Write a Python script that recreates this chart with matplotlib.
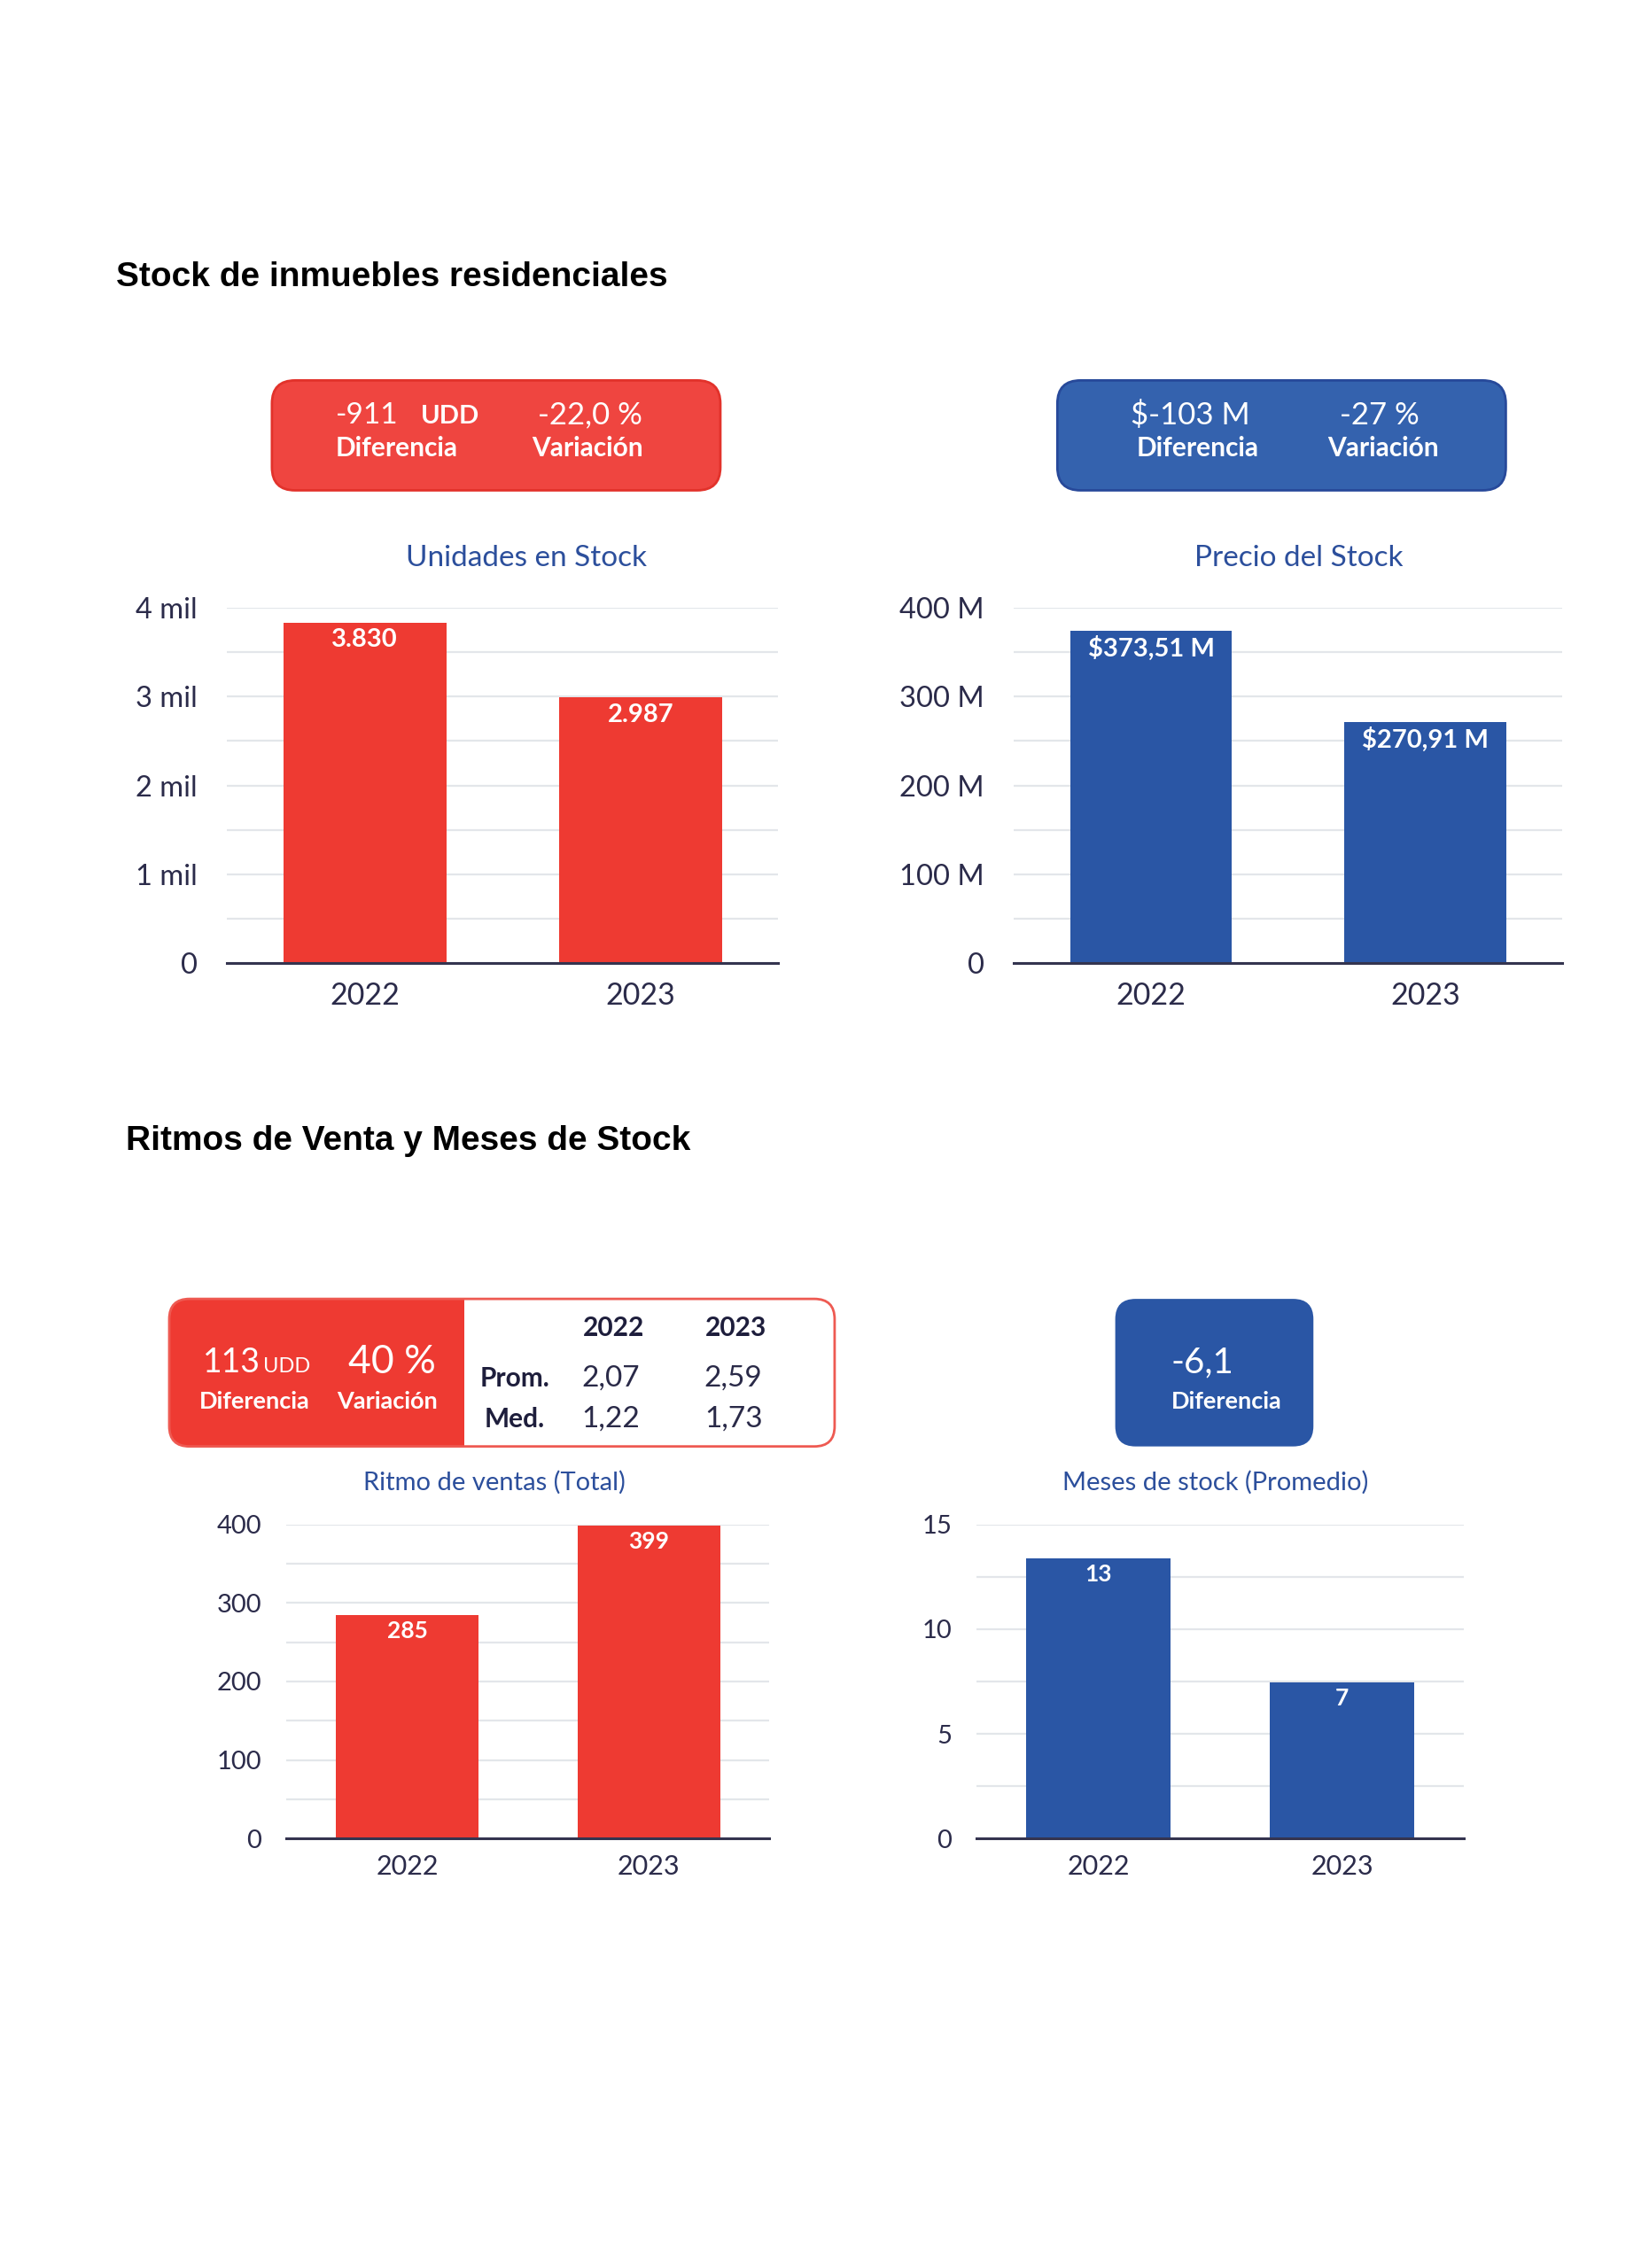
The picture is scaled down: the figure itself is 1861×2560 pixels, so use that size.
import matplotlib.pyplot as plt
from matplotlib.patches import FancyBboxPatch, Rectangle
from matplotlib.ticker import FixedLocator

# =========================
# datos
# =========================
years = ['2022', '2023']
unidades = [3830, 2987]
precio = [373.51, 270.91]
ritmo = [285, 399]
meses = [13.4, 7.45]

unidades_ticks = [0, 1000, 2000, 3000, 4000]
unidades_ticklabels = ['0', '1 mil', '2 mil', '3 mil', '4 mil']
precio_ticks = [0, 100, 200, 300, 400]
precio_ticklabels = ['0', '100 M', '200 M', '300 M', '400 M']
ritmo_ticks = [0, 100, 200, 300, 400]
meses_ticks = [0, 5, 10, 15]

RED = '#EE3A32'
BLUE = '#2A56A5'
TITLE_BLUE = '#2C4F9C'
NAVY = '#2B2B4A'
GRID = '#E3E6EA'

FONT = ['Lato', 'DejaVu Sans']
plt.rcParams['font.family'] = FONT

W, H = 1140, 1568  # coordenadas de maqueta

fig = plt.figure(figsize=(18.61, 25.60), dpi=100)
fig.patch.set_facecolor('white')

bg = fig.add_axes([0, 0, 1, 1], zorder=0)
bg.set_xlim(0, W)
bg.set_ylim(H, 0)
bg.axis('off')


def box_axes(x0, x1, y0, y1):
    return fig.add_axes([x0 / W, 1 - y1 / H, (x1 - x0) / W, (y1 - y0) / H], zorder=2)


def bar_chart(ax, values, color, ticks, ticklabels, minor, labels, tsize, xsize, lsize, ypad, xpad, loff):
    x = range(len(years))
    ax.bar(x, values, width=0.59, color=color, zorder=3)
    ax.set_xlim(-0.5, 1.5)
    ax.set_ylim(ticks[0], ticks[-1])
    ax.set_xticks(list(x))
    ax.set_xticklabels(years)
    ax.yaxis.set_major_locator(FixedLocator(ticks))
    ax.set_yticklabels(ticklabels)
    ax.yaxis.set_minor_locator(FixedLocator(minor))
    ax.grid(axis='y', which='both', color=GRID, linewidth=1.6, zorder=0)
    ax.set_axisbelow(True)
    for s in ['top', 'right', 'left']:
        ax.spines[s].set_visible(False)
    ax.spines['bottom'].set_color('#34344F')
    ax.spines['bottom'].set_linewidth(2.2)
    ax.spines['bottom'].set_zorder(4)
    ax.tick_params(axis='y', which='both', length=0, labelsize=tsize, labelcolor=NAVY, pad=ypad)
    ax.tick_params(axis='x', length=0, labelsize=xsize, labelcolor=NAVY, pad=xpad)
    ax.set_facecolor('none')
    for i, v in enumerate(values):
        ax.annotate(labels[i], (i, v), xytext=(0, loff), textcoords='offset points',
                    ha='center', va='center', color='white', fontsize=lsize,
                    fontweight='bold', zorder=5)


# =========================
# titulos de seccion
# =========================
bg.text(80, 192, 'Stock de inmuebles residenciales', fontsize=28, fontweight='bold',
        family=['Liberation Sans', 'DejaVu Sans'], ha='left', va='center', color='black')
bg.text(87, 789, 'Ritmos de Venta y Meses de Stock', fontsize=28, fontweight='bold',
        family=['Liberation Sans', 'DejaVu Sans'], ha='left', va='center', color='black')

# =========================
# cajas resumen
# =========================
bg.add_patch(FancyBboxPatch((188, 263), 310, 76, boxstyle='round,pad=0,rounding_size=16',
                            facecolor='#EF4540', edgecolor='#E2322B', linewidth=2))
bg.text(254, 287, '-911', fontsize=24, color='white', ha='center', va='center')
bg.text(311, 288, 'UDD', fontsize=21, color='white', ha='center', va='center', fontweight='bold')
bg.text(408, 287, '-22,0 %', fontsize=25, color='white', ha='center', va='center')
bg.text(274, 310, 'Diferencia', fontsize=21.5, color='white', ha='center', va='center', fontweight='bold')
bg.text(406, 310, 'Variación', fontsize=21.5, color='white', ha='center', va='center', fontweight='bold')

bg.add_patch(FancyBboxPatch((731, 263), 310, 76, boxstyle='round,pad=0,rounding_size=16',
                            facecolor='#3462AE', edgecolor='#27499A', linewidth=2))
bg.text(823, 287, '$-103 M', fontsize=25, color='white', ha='center', va='center')
bg.text(954, 287, '-27 %', fontsize=25, color='white', ha='center', va='center')
bg.text(828, 310, 'Diferencia', fontsize=21.5, color='white', ha='center', va='center', fontweight='bold')
bg.text(956, 310, 'Variación', fontsize=21.5, color='white', ha='center', va='center', fontweight='bold')

# caja ritmo de ventas
bg.add_patch(FancyBboxPatch((117, 898), 460, 102, boxstyle='round,pad=0,rounding_size=14',
                            facecolor='white', edgecolor='none', zorder=1))
bg.add_patch(FancyBboxPatch((117, 898), 234, 102, boxstyle='round,pad=0,rounding_size=14',
                            facecolor=RED, edgecolor='none', zorder=2))
bg.add_patch(Rectangle((321, 897), 40, 104, facecolor='white', edgecolor='none', zorder=3))
bg.add_patch(FancyBboxPatch((117, 898), 460, 102, boxstyle='round,pad=0,rounding_size=14',
                            facecolor='none', edgecolor='#EE5A52', linewidth=2, zorder=4))
bg.text(180, 942, '113', fontsize=27, color='white', ha='right', va='center', zorder=5)
bg.text(182, 945, 'UDD', fontsize=17, color='white', ha='left', va='center', zorder=5)
bg.text(271, 942, '40 %', fontsize=32, color='white', ha='center', va='center', zorder=5)
bg.text(176, 969, 'Diferencia', fontsize=19.5, color='white', ha='center', va='center',
        fontweight='bold', zorder=5)
bg.text(268, 969, 'Variación', fontsize=19.5, color='white', ha='center', va='center',
        fontweight='bold', zorder=5)

table_cols = ['2022', '2023']
table_rows = ['Prom.', 'Med.']
table_vals = [['2,07', '2,59'], ['1,22', '1,73']]
col_x = [424, 509]
row_y = [953, 981]
for j, c in enumerate(table_cols):
    bg.text(col_x[j], 918, c, fontsize=21.5, color='#1E1E3C', ha='center', va='center',
            fontweight='bold', zorder=5)
for i, r in enumerate(table_rows):
    bg.text(356, row_y[i], r, fontsize=21.5, color='#1E1E3C', ha='center', va='center',
            fontweight='bold', zorder=5)
    for j in range(2):
        bg.text(col_x[j] - 2, row_y[i], table_vals[i][j], fontsize=24, color='#2A2A48',
                ha='center', va='center', zorder=5)

# caja meses de stock
bg.add_patch(FancyBboxPatch((771, 898), 137, 102, boxstyle='round,pad=0,rounding_size=14',
                            facecolor=BLUE, edgecolor='none', zorder=2))
bg.text(831, 942, '-6,1', fontsize=29, color='white', ha='center', va='center', zorder=5)
bg.text(848, 969, 'Diferencia', fontsize=19.5, color='white', ha='center', va='center',
        fontweight='bold', zorder=5)

# =========================
# titulos de graficos
# =========================
bg.text(364, 386, 'Unidades en Stock', fontsize=24, color=TITLE_BLUE, ha='center', va='center')
bg.text(898, 386, 'Precio del Stock', fontsize=24, color=TITLE_BLUE, ha='center', va='center')
bg.text(342, 1025, 'Ritmo de ventas (Total)', fontsize=21, color=TITLE_BLUE, ha='center', va='center')
bg.text(840, 1025, 'Meses de stock (Promedio)', fontsize=21, color=TITLE_BLUE, ha='center', va='center')

# =========================
# graficos de barras
# =========================
ax1 = box_axes(157, 538, 420, 666)
bar_chart(ax1, unidades, RED, unidades_ticks, unidades_ticklabels,
          [500, 1500, 2500, 3500],
          [f'{v:,}'.replace(',', '.') for v in unidades], 23.5, 24.5, 21, 24, 15, -14)

ax2 = box_axes(701, 1080, 420, 666)
bar_chart(ax2, precio, BLUE, precio_ticks, precio_ticklabels,
          [50, 150, 250, 350],
          [f'${v:.2f} M'.replace('.', ',') for v in precio], 23.5, 24.5, 21, 24, 15, -14)

ax3 = box_axes(198, 532, 1054, 1271)
bar_chart(ax3, ritmo, RED, ritmo_ticks, [str(t) for t in ritmo_ticks],
          [50, 150, 250, 350],
          [str(v) for v in ritmo], 21, 22, 19, 20, 13, -13)

ax4 = box_axes(675, 1012, 1054, 1271)
bar_chart(ax4, meses, BLUE, meses_ticks, [str(t) for t in meses_ticks],
          [2.5, 7.5, 12.5],
          [f'{v:.0f}' for v in meses], 21, 22, 19, 20, 13, -13)

plt.savefig('out.png', dpi=100)
plt.close()
